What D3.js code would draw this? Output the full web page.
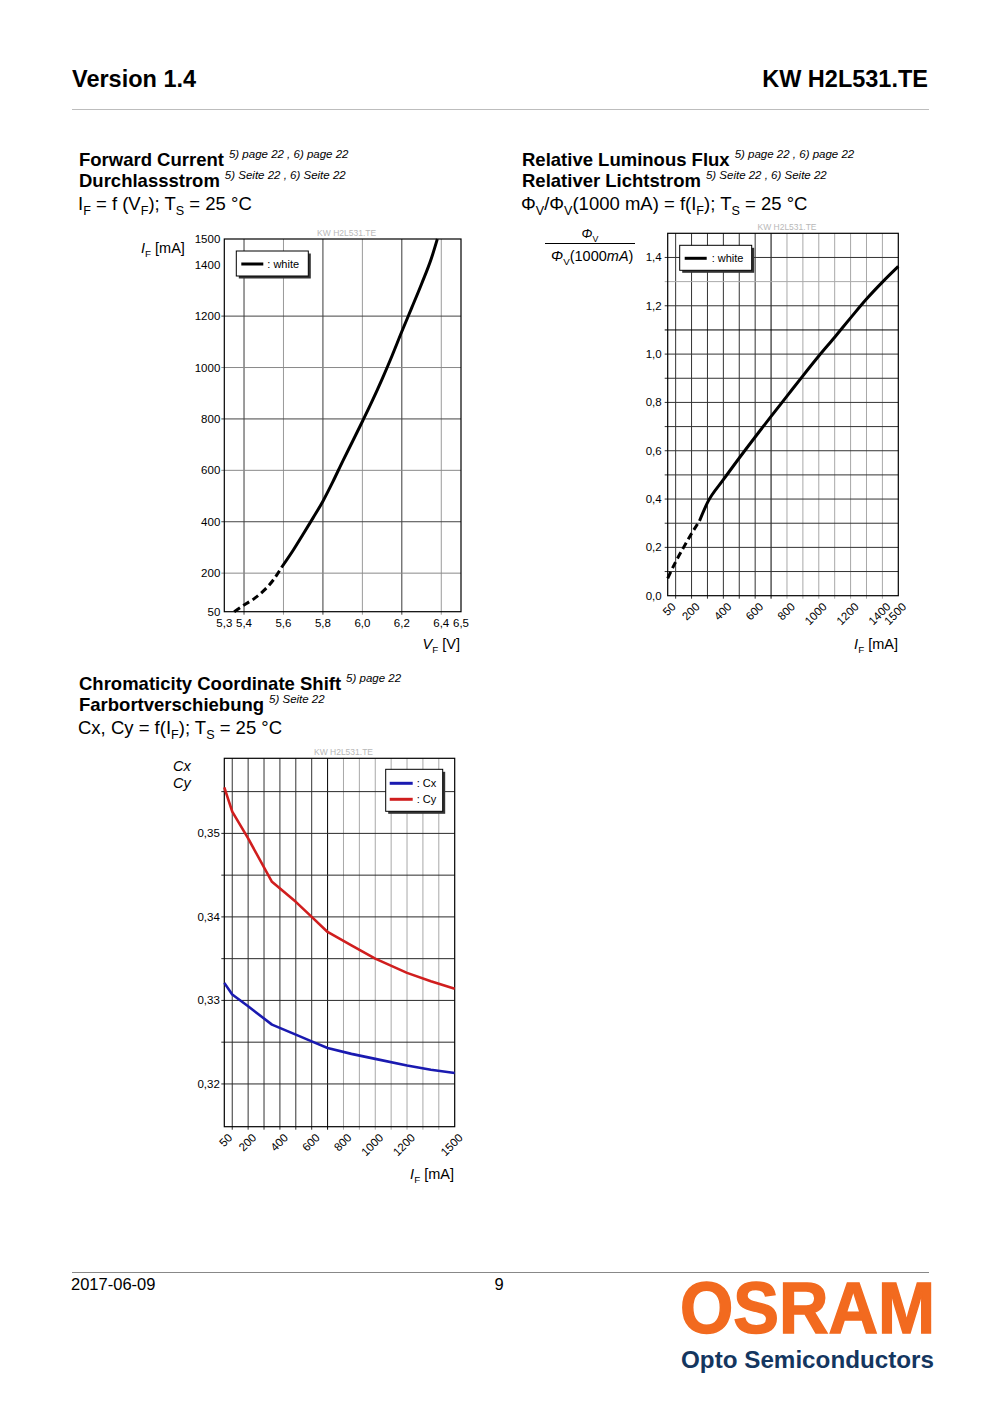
<!DOCTYPE html>
<html><head><meta charset="utf-8">
<script src="https://cdn.jsdelivr.net/npm/d3@7"></script>
<style>
body{margin:0;background:#fff}
svg{display:block}
text{font-family:"Liberation Sans",Arial,Helvetica,sans-serif;fill:#000}
</style>
</head><body>
<svg id="c" width="1000" height="1415"></svg>
<script>
// ---------- DATA ----------
// Forward current vs forward voltage
const fwdVoltageDashed = [5.35, 5.40, 5.45, 5.50, 5.55, 5.59];
const fwdCurrentDashed = [50, 76, 100, 132, 175, 222];
const fwdVoltage = [5.59, 5.65, 5.70, 5.75, 5.80, 5.85, 5.90, 5.95, 6.00, 6.05, 6.10, 6.15, 6.20, 6.25, 6.30, 6.35, 6.38];
const fwdCurrent = [222, 290, 352, 415, 480, 555, 635, 712, 790, 870, 955, 1045, 1140, 1232, 1325, 1425, 1500];
const fwdXTicks = [5.3, 5.4, 5.6, 5.8, 6.0, 6.2, 6.4, 6.5];
const fwdYTicks = [50, 200, 400, 600, 800, 1000, 1200, 1400, 1500];
const fwdXGrid = [5.4, 5.6, 5.8, 6.0, 6.2, 6.4];
const fwdYGrid = [200, 400, 600, 800, 1000, 1200];

// Relative luminous flux vs forward current
const fluxCurrentDashed = [50, 100, 150, 200, 250];
const fluxRelDashed = [0.072, 0.140, 0.200, 0.257, 0.310];
const fluxCurrent = [250, 300, 400, 500, 600, 700, 800, 900, 1000, 1100, 1200, 1300, 1400, 1500];
const fluxRel = [0.310, 0.385, 0.480, 0.570, 0.657, 0.742, 0.826, 0.910, 0.992, 1.070, 1.150, 1.228, 1.298, 1.363];
const fluxXTicks = [50, 200, 400, 600, 800, 1000, 1200, 1400, 1500];
const fluxYTicks = [0, 0.2, 0.4, 0.6, 0.8, 1.0, 1.2, 1.4];
const mAGrid = [100, 200, 300, 400, 500, 600, 700, 800, 900, 1000, 1100, 1200, 1300, 1400];
const fluxYGrid = [0.1, 0.2, 0.3, 0.4, 0.5, 0.6, 0.7, 0.8, 0.9, 1.0, 1.1, 1.2, 1.3, 1.4];

// Chromaticity coordinate shift
const chromCurrent = [50, 100, 200, 350, 500, 600, 700, 850, 1000, 1200, 1350, 1500];
const chromCx = [0.3321, 0.3307, 0.3293, 0.3271, 0.3259, 0.3251, 0.3243, 0.3236, 0.3230, 0.3222, 0.3217, 0.3213];
const chromCy = [0.3555, 0.3526, 0.3494, 0.3442, 0.3418, 0.3400, 0.3382, 0.3366, 0.3350, 0.3333, 0.3323, 0.3314];
const chromXTicks = [50, 200, 400, 600, 800, 1000, 1200, 1500];
const chromYTicks = [0.32, 0.33, 0.34, 0.35];
const chromYGrid = [0.32, 0.325, 0.33, 0.335, 0.34, 0.345, 0.35, 0.355];

// ---------- HELPERS ----------
const loc = d3.formatLocale({decimal: ",", thousands: ".", grouping: [3], currency: ["", ""]});
const f1 = loc.format(".1f"), f2 = loc.format(".2f");
const svg = d3.select("#c");
svg.append("rect").attr("width", 1000).attr("height", 1415).attr("fill", "#fff");

function rich(x, y, parts, size, opts = {}) {
  const t = svg.append("text").attr("x", x).attr("y", y).attr("font-size", size);
  if (opts.anchor) t.attr("text-anchor", opts.anchor);
  if (opts.weight) t.attr("font-weight", opts.weight);
  let shift = 0;
  parts.forEach(([txt, fl = ""]) => {
    const s = t.append("tspan").text(txt);
    let want = 0;
    if (fl.includes("sub")) { want = size * 0.28; s.attr("font-size", size * 0.68); }
    if (fl.includes("sup")) { want = -size * 0.42; s.attr("font-size", opts.supSize || size * 0.62).attr("font-weight", "normal").attr("font-style", "italic"); }
    if (fl.includes("i")) s.attr("font-style", "italic");
    if (fl.includes("dx")) s.attr("dx", 5);
    if (want - shift !== 0) s.attr("dy", want - shift);
    shift = want;
  });
  return t;
}

function plotArea(xs, ys) {
  const [l, r] = xs.range(), [b, t] = ys.range();
  return {l, r, t, b};
}

function border(xs, ys) {
  const p = plotArea(xs, ys);
  svg.append("rect").attr("x", p.l).attr("y", p.t).attr("width", p.r - p.l).attr("height", p.b - p.t)
    .attr("fill", "none").attr("stroke", "#000").attr("stroke-width", 1.2);
}

function watermark(xs, ys) {
  const p = plotArea(xs, ys);
  svg.append("text").attr("x", (p.l + p.r) / 2 + 4).attr("y", p.t - 3).attr("text-anchor", "middle")
    .attr("font-size", 8.5).style("fill", "#b8b8b8").text("KW H2L531.TE");
}

function legendBox(x, y, w, h) {
  svg.append("rect").attr("x", x + 2.5).attr("y", y + 2.5).attr("width", w).attr("height", h).attr("fill", "#333");
  svg.append("rect").attr("x", x).attr("y", y).attr("width", w).attr("height", h)
    .attr("fill", "#fff").attr("stroke", "#000").attr("stroke-width", 1);
}

function rotatedXLabels(xs, ys, ticks, fmt) {
  const p = plotArea(xs, ys);
  svg.append("g").selectAll("text").data(ticks).join("text")
    .attr("transform", d => `translate(${xs(d) + 6},${p.b + 9}) rotate(-45)`)
    .attr("text-anchor", "end").attr("dy", "0.35em").attr("font-size", 11.5).text(fmt);
}

function yLabels(xs, ys, ticks, fmt, gap) {
  const p = plotArea(xs, ys);
  svg.append("g").selectAll("text").data(ticks).join("text")
    .attr("x", p.l - gap).attr("y", d => ys(d)).attr("dy", "0.35em")
    .attr("text-anchor", "end").attr("font-size", 11.5).text(fmt);
}

// ---------- PAGE HEADER / FOOTER ----------
svg.append("text").attr("x", 72).attr("y", 87).attr("font-size", 23.5).attr("font-weight", "bold").text("Version 1.4");
svg.append("text").attr("x", 928).attr("y", 87).attr("font-size", 23.5).attr("font-weight", "bold").attr("text-anchor", "end").text("KW H2L531.TE");
svg.append("line").attr("x1", 72).attr("x2", 929).attr("y1", 109.5).attr("y2", 109.5).attr("stroke", "#bdbdbd");
svg.append("line").attr("x1", 72).attr("x2", 929).attr("y1", 1272.5).attr("y2", 1272.5).attr("stroke", "#888");
svg.append("text").attr("x", 71).attr("y", 1290).attr("font-size", 16.5).text("2017-06-09");
svg.append("text").attr("x", 499).attr("y", 1290).attr("font-size", 16.5).attr("text-anchor", "middle").text("9");
svg.append("text").attr("x", 680).attr("y", 1333).attr("font-size", 73).attr("font-weight", "bold")
  .attr("textLength", 255).attr("lengthAdjust", "spacingAndGlyphs").style("fill", "#f26a1f")
  .style("stroke", "#f26a1f").style("stroke-width", 1.5).text("OSRAM");
svg.append("text").attr("x", 681).attr("y", 1368).attr("font-size", 23).attr("font-weight", "bold")
  .attr("textLength", 253).attr("lengthAdjust", "spacingAndGlyphs").style("fill", "#14365f").text("Opto Semiconductors");

// ---------- TITLES ----------
const TS = 18.5;
rich(79, 166, [["Forward Current"], ["5) page 22 , 6) page 22", "sup dx"]], TS, {weight: "bold", supSize: 11.5});
rich(79, 187, [["Durchlassstrom"], ["5) Seite 22 , 6) Seite 22", "sup dx"]], TS, {weight: "bold", supSize: 11.5});
rich(78, 210, [["I"], ["F", "sub"], [" = f (V"], ["F", "sub"], ["); T"], ["S", "sub"], [" = 25 °C"]], TS);

rich(522, 166, [["Relative Luminous Flux"], ["5) page 22 , 6) page 22", "sup dx"]], TS, {weight: "bold", supSize: 11.5});
rich(522, 187, [["Relativer Lichtstrom"], ["5) Seite 22 , 6) Seite 22", "sup dx"]], TS, {weight: "bold", supSize: 11.5});
rich(521, 210, [["Φ"], ["V", "sub"], ["/Φ"], ["V", "sub"], ["(1000 mA) = f(I"], ["F", "sub"], ["); T"], ["S", "sub"], [" = 25 °C"]], TS);

rich(79, 690, [["Chromaticity Coordinate Shift"], ["5) page 22", "sup dx"]], TS, {weight: "bold", supSize: 11.5});
rich(79, 711, [["Farbortverschiebung"], ["5) Seite 22", "sup dx"]], TS, {weight: "bold", supSize: 11.5});
rich(78, 734, [["Cx, Cy = f(I"], ["F", "sub"], ["); T"], ["S", "sub"], [" = 25 °C"]], TS);

// ---------- CHART 1: Forward current ----------
{
  const xs = d3.scaleLinear().domain([5.3, 6.5]).range([224.3, 461]);
  const ys = d3.scaleLinear().domain([50, 1500]).range([611.7, 239]);
  const p = plotArea(xs, ys);
  svg.append("g").selectAll("line").data(fwdXGrid).join("line")
    .attr("x1", d => xs(d)).attr("x2", d => xs(d)).attr("y1", p.t).attr("y2", p.b + 3)
    .attr("stroke", (d, i) => i % 2 === 0 ? "#3a3a3a" : "#9a9a9a");
  svg.append("g").selectAll("line").data(fwdYGrid).join("line")
    .attr("y1", d => ys(d)).attr("y2", d => ys(d)).attr("x1", p.l - 3).attr("x2", p.r)
    .attr("stroke", (d, i) => i % 2 === 0 ? "#8a8a8a" : "#444");
  border(xs, ys);
  watermark(xs, ys);
  const line = d3.line().curve(d3.curveMonotoneX).x(i => xs(i[0])).y(i => ys(i[1]));
  svg.append("path").datum(fwdVoltageDashed.map((v, i) => [v, fwdCurrentDashed[i]]))
    .attr("d", line).attr("fill", "none").attr("stroke", "#000").attr("stroke-width", 3).attr("stroke-dasharray", "7,4");
  svg.append("path").datum(fwdVoltage.map((v, i) => [v, fwdCurrent[i]]))
    .attr("d", line).attr("fill", "none").attr("stroke", "#000").attr("stroke-width", 3);
  yLabels(xs, ys, fwdYTicks, d => d, 4);
  svg.append("g").selectAll("text").data(fwdXTicks).join("text")
    .attr("x", d => xs(d)).attr("y", p.b + 15.5).attr("text-anchor", "middle").attr("font-size", 11.5).text(f1);
  legendBox(p.l + 12, p.t + 12, 72, 25);
  svg.append("line").attr("x1", p.l + 17).attr("x2", p.l + 39).attr("y1", p.t + 25).attr("y2", p.t + 25).attr("stroke", "#000").attr("stroke-width", 3);
  svg.append("text").attr("x", p.l + 43).attr("y", p.t + 29).attr("font-size", 11).text(": white");
  rich(141, 253, [["I", "i"], ["F", "sub"], [" [mA]"]], 14.5);
  rich(460, 649, [["V", "i"], ["F", "sub"], [" [V]"]], 14.5, {anchor: "end"});
}

// ---------- CHART 2: Relative luminous flux ----------
{
  const xs = d3.scaleLinear().domain([50, 1500]).range([667.7, 898.3]);
  const ys = d3.scaleLinear().domain([0, 1.5]).range([595.7, 233.3]);
  const p = plotArea(xs, ys);
  svg.append("g").selectAll("line").data(mAGrid).join("line")
    .attr("x1", d => xs(d)).attr("x2", d => xs(d)).attr("y1", p.t).attr("y2", p.b + 3)
    .attr("stroke", d => d < 700 ? "#333" : d === 700 ? "#000" : "#a8a8a8");
  svg.append("g").selectAll("line").data(fluxYGrid).join("line")
    .attr("y1", d => ys(d)).attr("y2", d => ys(d)).attr("x1", p.l - 3).attr("x2", p.r)
    .attr("stroke", d => Math.abs(d - 1.3) < 1e-6 ? "#aaa" : Math.abs(d - 1.1) < 1e-6 ? "#000" : "#333");
  border(xs, ys);
  watermark(xs, ys);
  const line = d3.line().curve(d3.curveMonotoneX).x(i => xs(i[0])).y(i => ys(i[1]));
  svg.append("path").datum(fluxCurrentDashed.map((v, i) => [v, fluxRelDashed[i]]))
    .attr("d", line).attr("fill", "none").attr("stroke", "#000").attr("stroke-width", 3).attr("stroke-dasharray", "7,4");
  svg.append("path").datum(fluxCurrent.map((v, i) => [v, fluxRel[i]]))
    .attr("d", line).attr("fill", "none").attr("stroke", "#000").attr("stroke-width", 3);
  yLabels(xs, ys, fluxYTicks, f1, 6);
  rotatedXLabels(xs, ys, fluxXTicks, d => d);
  legendBox(p.l + 12, p.t + 12, 72, 25);
  svg.append("line").attr("x1", p.l + 17).attr("x2", p.l + 39).attr("y1", p.t + 25).attr("y2", p.t + 25).attr("stroke", "#000").attr("stroke-width", 3);
  svg.append("text").attr("x", p.l + 44).attr("y", p.t + 29).attr("font-size", 11).text(": white");
  rich(590, 238, [["Φ", "i"], ["V", "sub"]], 13, {anchor: "middle"});
  svg.append("line").attr("x1", 545).attr("x2", 635).attr("y1", 243.5).attr("y2", 243.5).attr("stroke", "#000");
  rich(551, 261, [["Φ", "i"], ["V", "sub"], ["(1000"], ["mA", "i"], [")"]], 14.5);
  rich(898, 649, [["I", "i"], ["F", "sub"], [" [mA]"]], 14.5, {anchor: "end"});
}

// ---------- CHART 3: Chromaticity ----------
{
  const xs = d3.scaleLinear().domain([50, 1500]).range([224.3, 454.7]);
  const ys = d3.scaleLinear().domain([0.31488, 0.35899]).range([1126.7, 758.3]);
  const p = plotArea(xs, ys);
  svg.append("g").selectAll("line").data(mAGrid).join("line")
    .attr("x1", d => xs(d)).attr("x2", d => xs(d)).attr("y1", p.t).attr("y2", p.b + 3)
    .attr("stroke", d => d < 700 ? "#333" : d === 700 ? "#000" : "#a8a8a8");
  svg.append("g").selectAll("line").data(chromYGrid).join("line")
    .attr("y1", d => ys(d)).attr("y2", d => ys(d)).attr("x1", p.l - 3).attr("x2", p.r)
    .attr("stroke", "#2a2a2a");
  border(xs, ys);
  watermark(xs, ys);
  const line = d3.line().curve(d3.curveLinear).x((d, i) => xs(chromCurrent[i])).y(d => ys(d));
  svg.append("path").datum(chromCx).attr("d", line).attr("fill", "none").attr("stroke", "#1a1ab0").attr("stroke-width", 2.6).attr("stroke-linejoin", "round");
  svg.append("path").datum(chromCy).attr("d", line).attr("fill", "none").attr("stroke", "#d01e1e").attr("stroke-width", 2.6).attr("stroke-linejoin", "round");
  yLabels(xs, ys, chromYTicks, f2, 4.5);
  rotatedXLabels(xs, ys, chromXTicks, d => d);
  const lx = p.r - 69, ly = p.t + 11;
  legendBox(lx, ly, 57, 42);
  svg.append("line").attr("x1", lx + 4).attr("x2", lx + 27).attr("y1", ly + 14).attr("y2", ly + 14).attr("stroke", "#1a1ab0").attr("stroke-width", 3);
  svg.append("line").attr("x1", lx + 4).attr("x2", lx + 27).attr("y1", ly + 30).attr("y2", ly + 30).attr("stroke", "#d01e1e").attr("stroke-width", 3);
  svg.append("text").attr("x", lx + 31).attr("y", ly + 18).attr("font-size", 11).text(": Cx");
  svg.append("text").attr("x", lx + 31).attr("y", ly + 34).attr("font-size", 11).text(": Cy");
  svg.append("text").attr("x", 173).attr("y", 771).attr("font-size", 14.5).attr("font-style", "italic").text("Cx");
  svg.append("text").attr("x", 173).attr("y", 788).attr("font-size", 14.5).attr("font-style", "italic").text("Cy");
  rich(454, 1179, [["I", "i"], ["F", "sub"], [" [mA]"]], 14.5, {anchor: "end"});
}
</script>
</body></html>
